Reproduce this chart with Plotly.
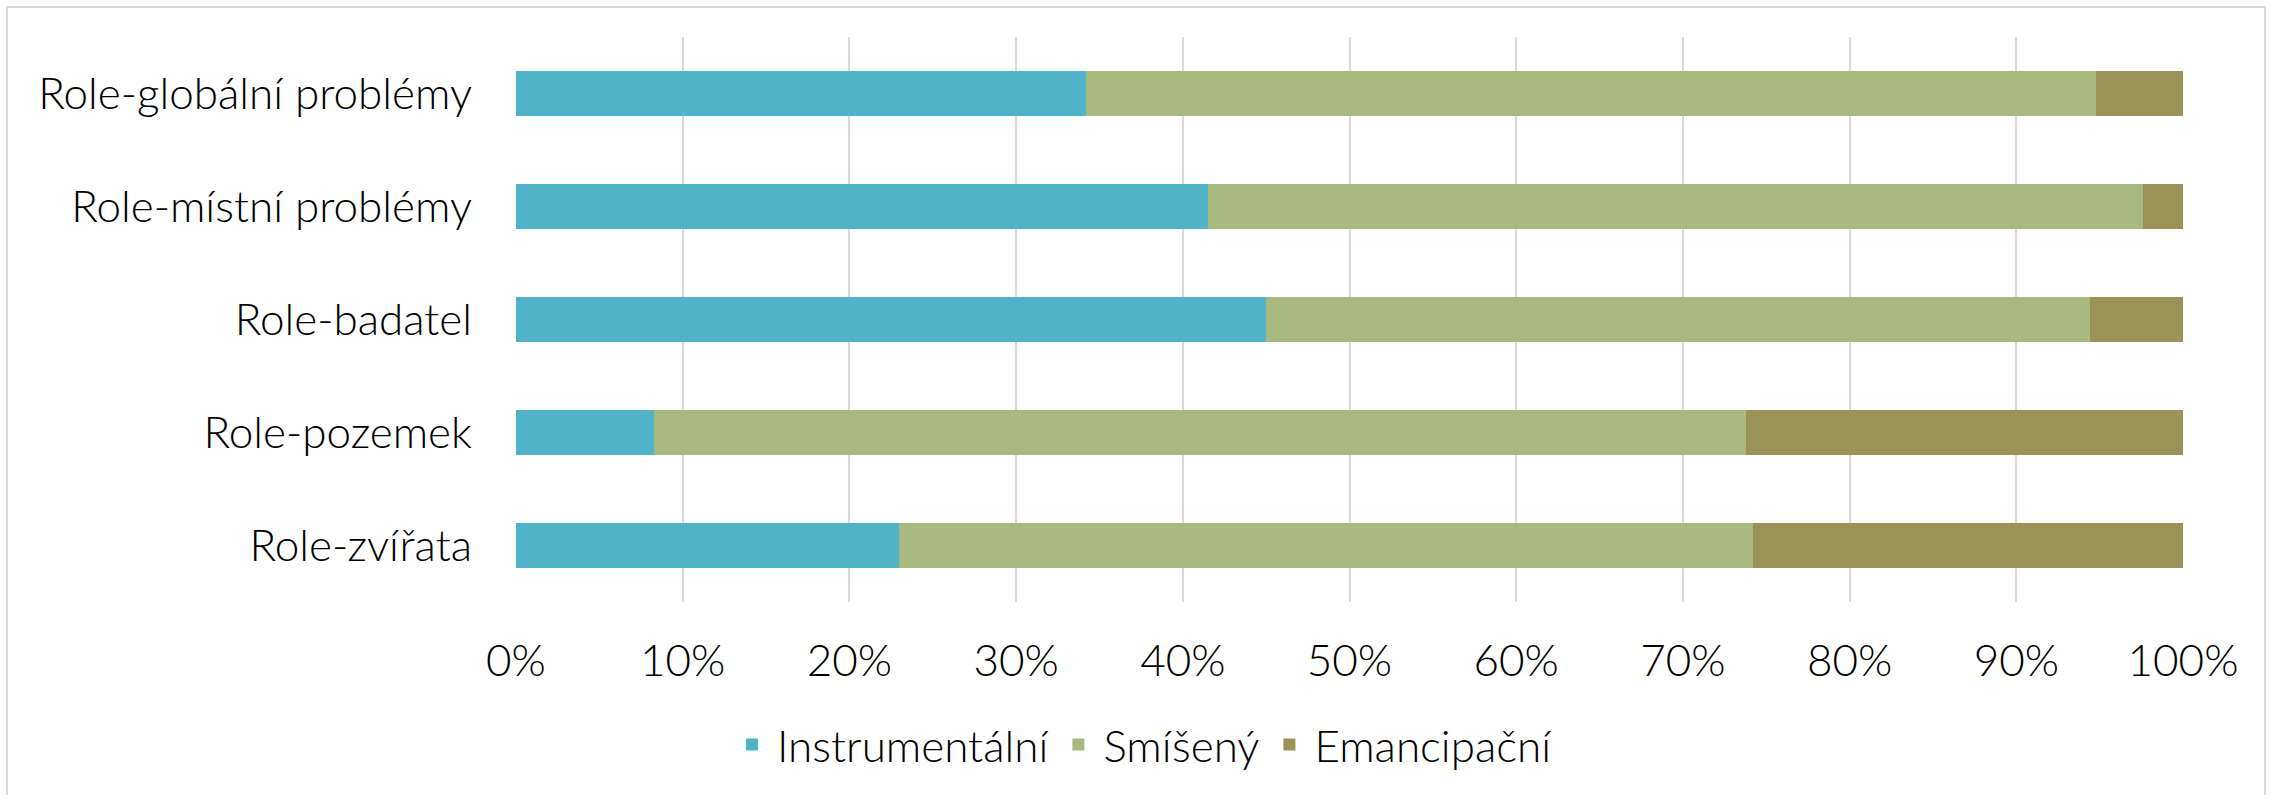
import plotly.graph_objects as go

categories = ["Role-globální problémy", "Role-místní problémy", "Role-badatel", "Role-pozemek", "Role-zvířata"]
series_names = ["Instrumentální", "Smíšený", "Emancipační"]
instrumentalni = [34.2, 41.5, 45.0, 8.3, 23.0]
smiseny = [60.6, 56.1, 49.4, 65.5, 51.2]
emancipacni = [5.2, 2.4, 5.6, 26.2, 25.8]
colors = ["#50B3C8", "#A8B97F", "#9A9256"]
tick_vals = [0, 10, 20, 30, 40, 50, 60, 70, 80, 90, 100]
tick_text = [f"{v}%" for v in tick_vals]

W, H = 2272, 795
ML, MR, MT, MB = 516, 89, 37, 193
PW, PH = W - ML - MR, H - MT - MB

def px_to_paper_x(px):
    return (px - ML) / PW

def px_to_paper_y(py):
    return (H - MB - py) / PH

fig = go.Figure()
for name, vals, col in zip(series_names, [instrumentalni, smiseny, emancipacni], colors):
    fig.add_trace(go.Bar(
        y=categories, x=vals, name=name, orientation="h",
        marker=dict(color=col, line=dict(width=0)),
        hoverinfo="skip",
    ))

font_family = "Lato"
FS = 44
txt = dict(family=font_family, size=FS, color="#000000", weight=300)
fig.update_layout(
    width=W, height=H,
    barmode="stack",
    bargap=0.602,
    paper_bgcolor="white",
    plot_bgcolor="white",
    margin=dict(l=ML, r=MR, t=MT, b=MB, autoexpand=False),
    font=txt,
    xaxis=dict(
        range=[0, 100],
        tickvals=tick_vals,
        ticktext=tick_text,
        showgrid=True,
        gridcolor="#D9D9D9",
        gridwidth=2,
        zeroline=False,
        showline=False,
        ticks="",
        ticklabelstandoff=29,
        tickfont=txt,
        fixedrange=True,
    ),
    yaxis=dict(
        autorange="reversed",
        showgrid=False,
        zeroline=False,
        showline=False,
        ticks="",
        ticklabelstandoff=43,
        tickfont=txt,
        fixedrange=True,
    ),
    legend=dict(
        orientation="h",
        x=px_to_paper_x(1142),
        xanchor="center",
        y=px_to_paper_y(745),
        yanchor="middle",
        font=txt,
        traceorder="normal",
        itemsizing="constant",
        itemwidth=40,
        bgcolor="rgba(0,0,0,0)",
    ),
    showlegend=True,
)

fig.add_shape(
    type="rect", xref="paper", yref="paper",
    x0=px_to_paper_x(7), x1=px_to_paper_x(2265),
    y0=px_to_paper_y(805), y1=px_to_paper_y(7),
    line=dict(color="#D9D9D9", width=2),
    fillcolor="rgba(0,0,0,0)",
    layer="below",
)

fig.write_html(
    "out.html",
    config={"displayModeBar": False},
    post_script="document.body.style.margin='0';document.body.style.overflow='hidden';",
)
